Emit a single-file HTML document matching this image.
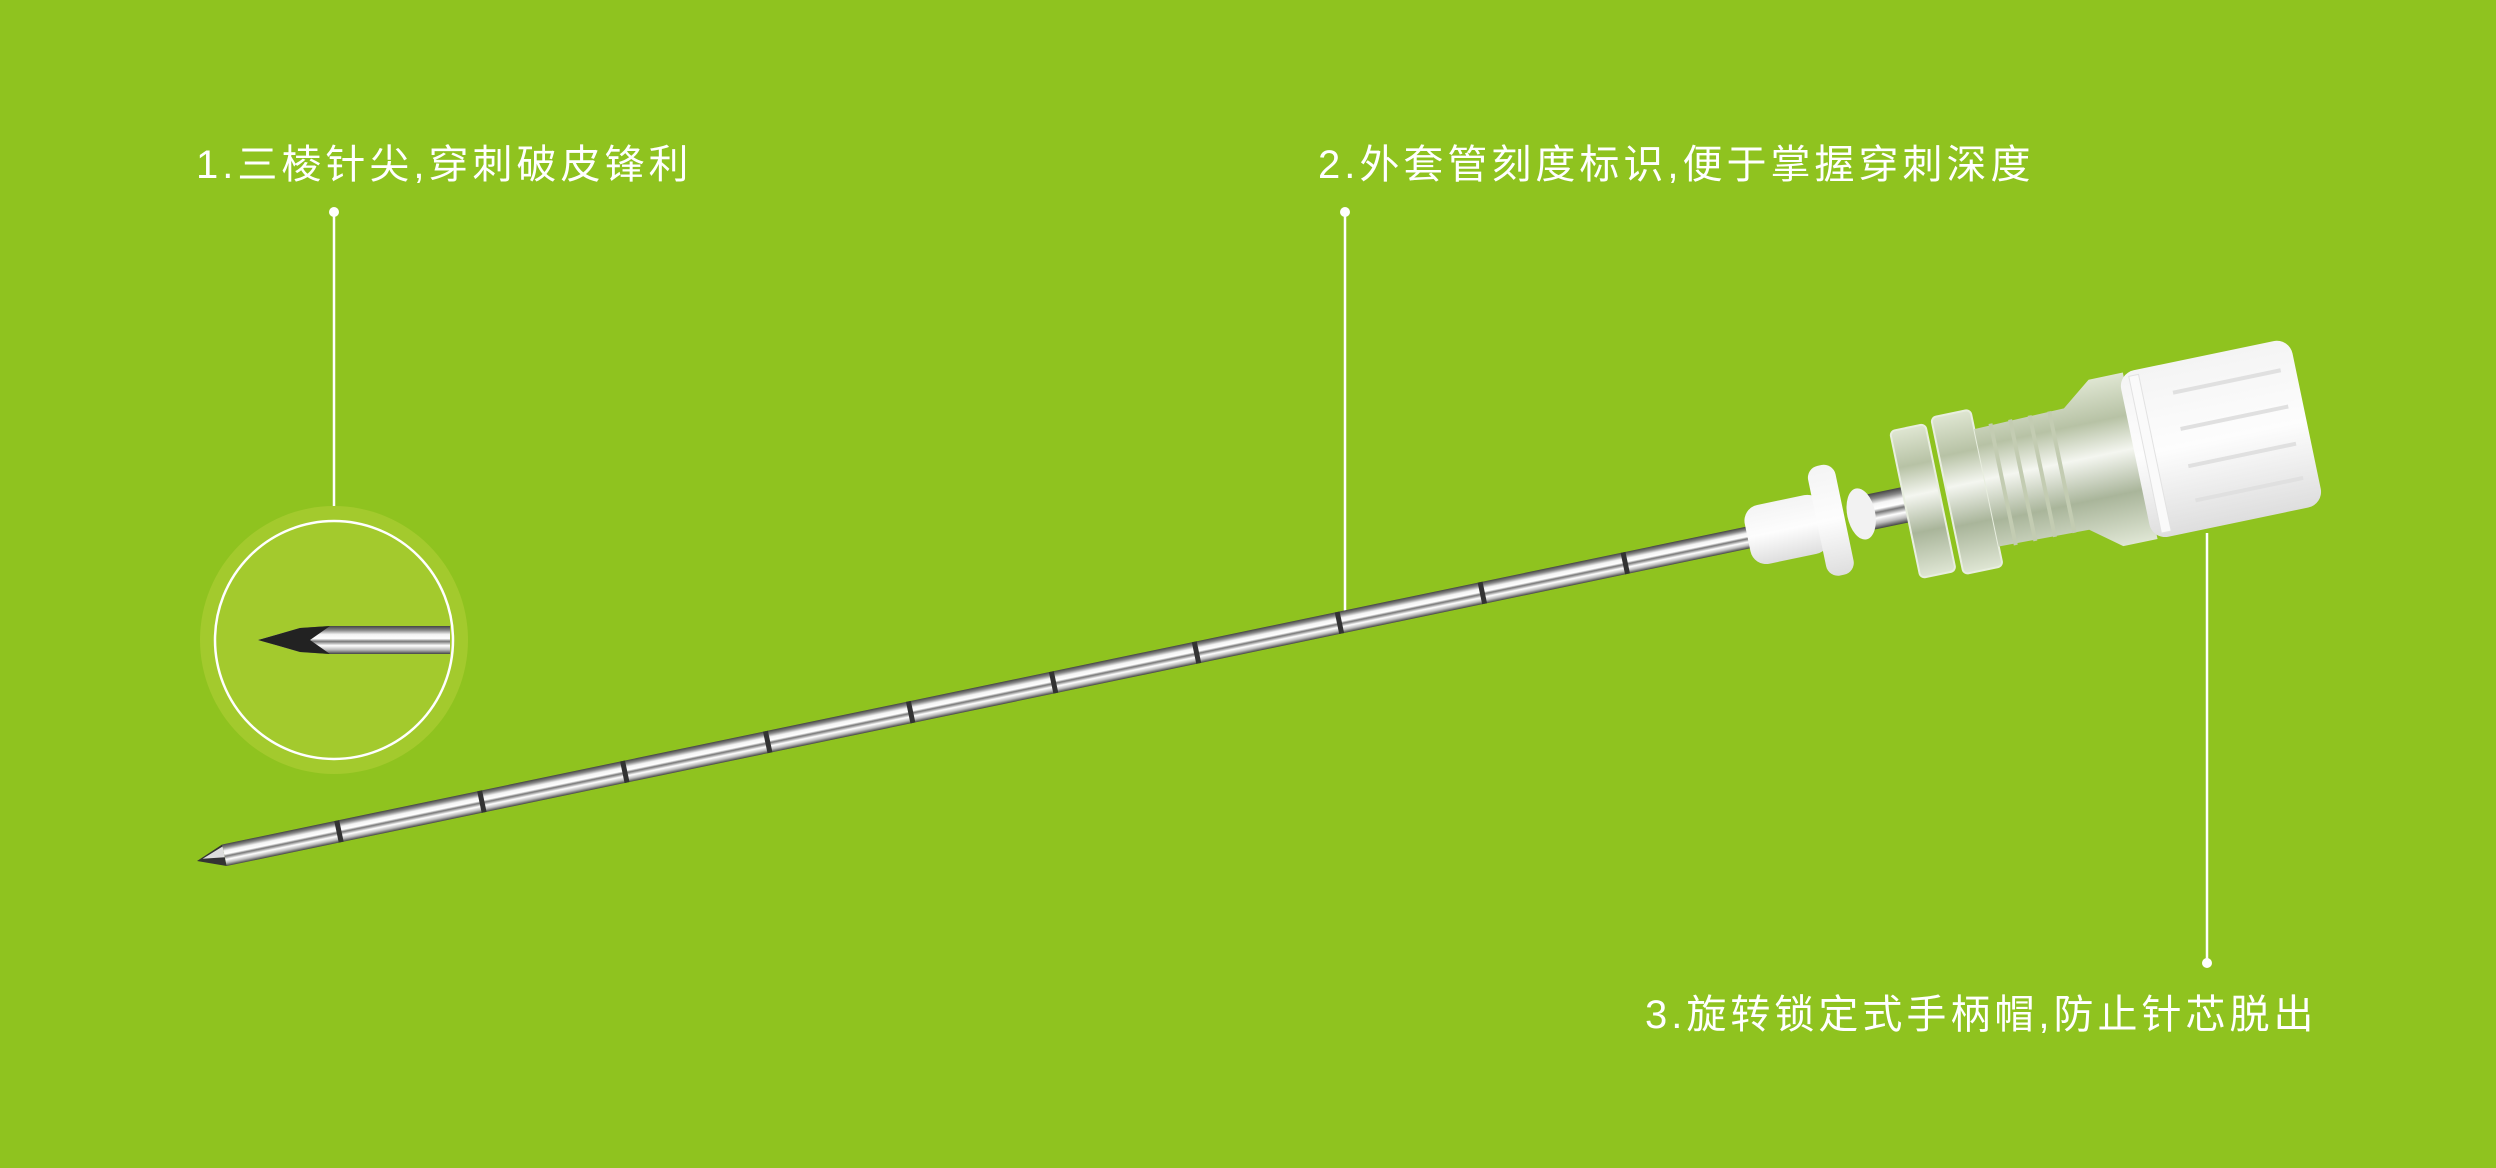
<!DOCTYPE html>
<html><head><meta charset="utf-8"><style>
html,body{margin:0;padding:0;background:#8fc31f;}
svg{display:block}
text{font-family:"Liberation Sans","Noto Sans CJK SC",sans-serif;fill:#fff;font-size:40px;letter-spacing:4px}
</style></head><body>
<svg width="2496" height="1168" viewBox="0 0 2496 1168" xmlns="http://www.w3.org/2000/svg">
<defs>
<linearGradient id="metal" x1="0" y1="0" x2="0" y2="1">
<stop offset="0" stop-color="#444"/><stop offset="0.15" stop-color="#888"/><stop offset="0.3" stop-color="#f4f4f4"/><stop offset="0.45" stop-color="#fff"/><stop offset="0.55" stop-color="#777"/><stop offset="0.7" stop-color="#fff"/><stop offset="0.85" stop-color="#bbb"/><stop offset="1" stop-color="#444"/>
</linearGradient>
<linearGradient id="clear" x1="0" y1="0" x2="0" y2="1">
<stop offset="0" stop-color="#dfe6d2"/><stop offset="0.25" stop-color="#b7c2a5"/><stop offset="0.45" stop-color="#f4f6f0"/><stop offset="0.7" stop-color="#a9b59a"/><stop offset="1" stop-color="#dfe6d4"/>
</linearGradient>
<linearGradient id="white" x1="0" y1="0" x2="0" y2="1">
<stop offset="0" stop-color="#f4f4f4"/><stop offset="0.5" stop-color="#fdfdfd"/><stop offset="1" stop-color="#dedede"/>
</linearGradient>
</defs>
<rect width="2496" height="1168" fill="#8fc31f"/>

<text x="196" y="178">1.三棱针尖,穿刺破皮锋利</text>
<text x="1318" y="178">2.外套管刻度标识,便于掌握穿刺深度</text>
<text x="1645" y="1028">3.旋转锁定式手柄帽,防止针芯脱出</text>

<g stroke="#fff" stroke-width="2.5">
<line x1="334" y1="212" x2="334" y2="506"/>
<line x1="1345" y1="212" x2="1345" y2="613"/>
<line x1="2207" y1="533" x2="2207" y2="963"/>
</g>
<g fill="#fff"><circle cx="334" cy="212" r="5"/><circle cx="1345" cy="212" r="5"/><circle cx="2207" cy="963" r="5"/></g>

<circle cx="334" cy="640" r="134" fill="#a3ca2d"/>
<circle cx="334" cy="640" r="119" fill="#a3ca2d" stroke="#fff" stroke-width="2.5"/>
<path d="M258 640 L300 628 L330 626 L450 626 L450 654 L330 654 L300 652 Z" fill="url(#metal)"/>
<path d="M258 640 L300 628 L330 626 L310 640 L330 654 L300 652 Z" fill="#222"/>

<g transform="translate(197,861) rotate(-11.78)">
<path d="M0 0 L28 -11 L28 11 Z" fill="#333"/>
<path d="M6 -1 L28 -9 L28 2 Z" fill="#ddd"/>
<rect x="28" y="-11" width="1570" height="22" fill="url(#metal)"/>
<g stroke="#333" stroke-width="5">
<line x1="145" y1="-11" x2="145" y2="11"/><line x1="291" y1="-11" x2="291" y2="11"/>
<line x1="437" y1="-11" x2="437" y2="11"/><line x1="583" y1="-11" x2="583" y2="11"/>
<line x1="729" y1="-11" x2="729" y2="11"/><line x1="875" y1="-11" x2="875" y2="11"/>
<line x1="1021" y1="-11" x2="1021" y2="11"/><line x1="1167" y1="-11" x2="1167" y2="11"/>
<line x1="1313" y1="-11" x2="1313" y2="11"/><line x1="1459" y1="-11" x2="1459" y2="11"/>
</g>
<!-- hub -->
<rect x="1690" y="-18" width="70" height="36" fill="url(#metal)"/>
<rect x="1584" y="-30" width="80" height="60" rx="16" fill="url(#white)"/>
<rect x="1655" y="-56" width="28" height="112" rx="12" fill="url(#white)"/>
<ellipse cx="1700" cy="0" rx="14" ry="26" fill="#f2f2f2"/>
<rect x="1745" y="-75" width="36" height="150" rx="5" fill="url(#clear)" stroke="#e8eedf" stroke-width="2"/>
<rect x="1788" y="-80" width="40" height="160" rx="5" fill="url(#clear)" stroke="#e8eedf" stroke-width="2"/>
<path d="M1828 -60 L1920 -62 L1950 -85 L1985 -85 L1985 85 L1950 85 L1920 62 L1828 60 Z" fill="url(#clear)"/>
<g stroke="#c3ccb2" stroke-width="4">
<line x1="1845" y1="-62" x2="1845" y2="62"/><line x1="1865" y1="-62" x2="1865" y2="62"/>
<line x1="1885" y1="-62" x2="1885" y2="62"/><line x1="1905" y1="-62" x2="1905" y2="62"/>
</g>
<rect x="1980" y="-85" width="175" height="170" rx="16" fill="url(#white)"/>
<rect x="1990" y="-80" width="10" height="160" fill="#fafafa" stroke="#e2e2e2"/>
<g stroke="#e0e0e0" stroke-width="4">
<line x1="2030" y1="-55" x2="2140" y2="-55"/><line x1="2030" y1="-18" x2="2140" y2="-18"/>
<line x1="2030" y1="20" x2="2140" y2="20"/><line x1="2030" y1="55" x2="2140" y2="55"/>
</g>
</g>
</svg>
</body></html>
